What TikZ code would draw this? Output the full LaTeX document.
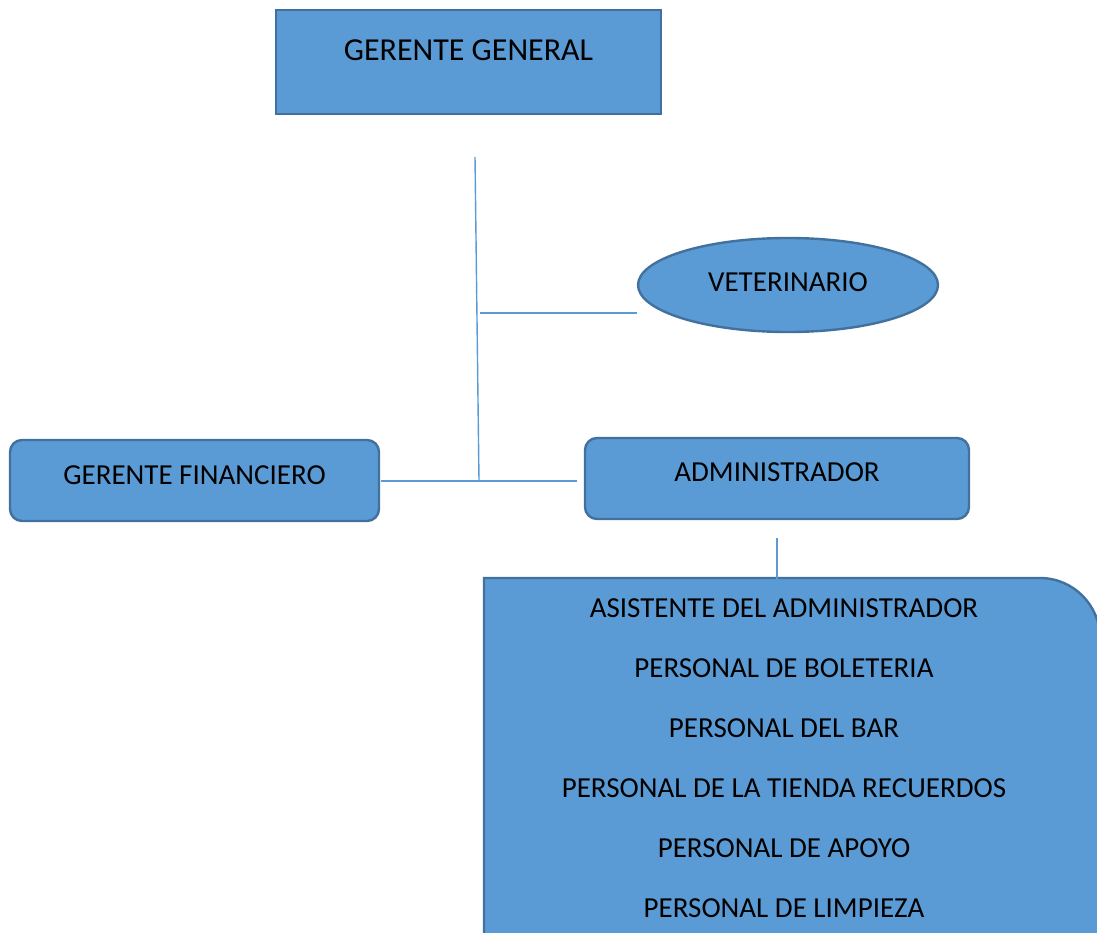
\documentclass[tikz,border=0pt]{standalone}
\usepackage{fontspec}
\setmainfont{Carlito}
\usepackage{tikz}
\usetikzlibrary{positioning}
\usetikzlibrary{shapes.geometric}
\definecolor{boxfill}{HTML}{5B9BD5}
\definecolor{boxedge}{HTML}{41719C}
\definecolor{linkblue}{HTML}{5B9BD5}
\tikzstyle{every node}+=[inner sep=0pt]
\tikzstyle{box} = [rectangle, draw=boxedge, fill=boxfill, line width=2.4pt, text centered, font=\fontsize{29}{35}\selectfont, text height=18.5pt]
\tikzstyle{roundbox} = [box, rounded corners=12pt, minimum width=369pt, minimum height=81pt]
\tikzstyle{oval} = [ellipse, draw=boxedge, fill=boxfill, line width=2.4pt, font=\fontsize{29}{35}\selectfont, text height=18.5pt, minimum width=300pt, minimum height=94pt]
\tikzstyle{line} = [draw=linkblue, line width=1.4pt]

\begin{document}
\begin{tikzpicture}[x=1pt, y=-1pt]
            \useasboundingbox (0,0) rectangle (1097,933);
            \clip (0,0) rectangle (1097,933);
            % Place nodes
            \node [box, minimum width=385pt, minimum height=104pt, font=\fontsize{32}{38}\selectfont, text height=20.5pt, text depth=24pt] (gg) at (468.5,62) {GERENTE GENERAL};
            \node [oval, text depth=6pt] (vet) at (788,285) {VETERINARIO};
            \node [roundbox, text depth=11pt] (gf) at (194.5,480.5) {GERENTE FINANCIERO};
            \node [roundbox, minimum width=384pt, text depth=13pt] (adm) at (777,478.5) {ADMINISTRADOR};
            % Staff block, open at the right and bottom
            \path [draw=boxedge, fill=boxfill, line width=2.4pt] (484,960) -- (484,578) -- (1040,578)
                .. controls (1073,578) and (1100,605) .. (1100,638) -- (1100,960) -- cycle;
            \node [align=center, font=\fontsize{29}{60}\selectfont] (staff) at (784,758) {ASISTENTE DEL ADMINISTRADOR\\PERSONAL DE BOLETERIA\\PERSONAL DEL BAR\\PERSONAL DE LA TIENDA RECUERDOS\\PERSONAL DE APOYO\\PERSONAL DE LIMPIEZA};
            % Connector ends
            \coordinate (ggstem) at (475,157);
            \coordinate (hub) at (479,481);
            \coordinate (vetfork) at (480,313);
            \coordinate (finend) at (381,481);
            \coordinate (admend) at (577,481);
            \coordinate (admtop) at (777,538);
            \coordinate (staffjoin) at (777,605);
            % Draw edges
            \path [line] (ggstem) -- (hub);
            \path [line] (vetfork) -- (vet.west |- vetfork);
            \path [line] (finend) -- (admend);
            \path [line] (admtop) -- (staffjoin);
          \end{tikzpicture}
\end{document}
